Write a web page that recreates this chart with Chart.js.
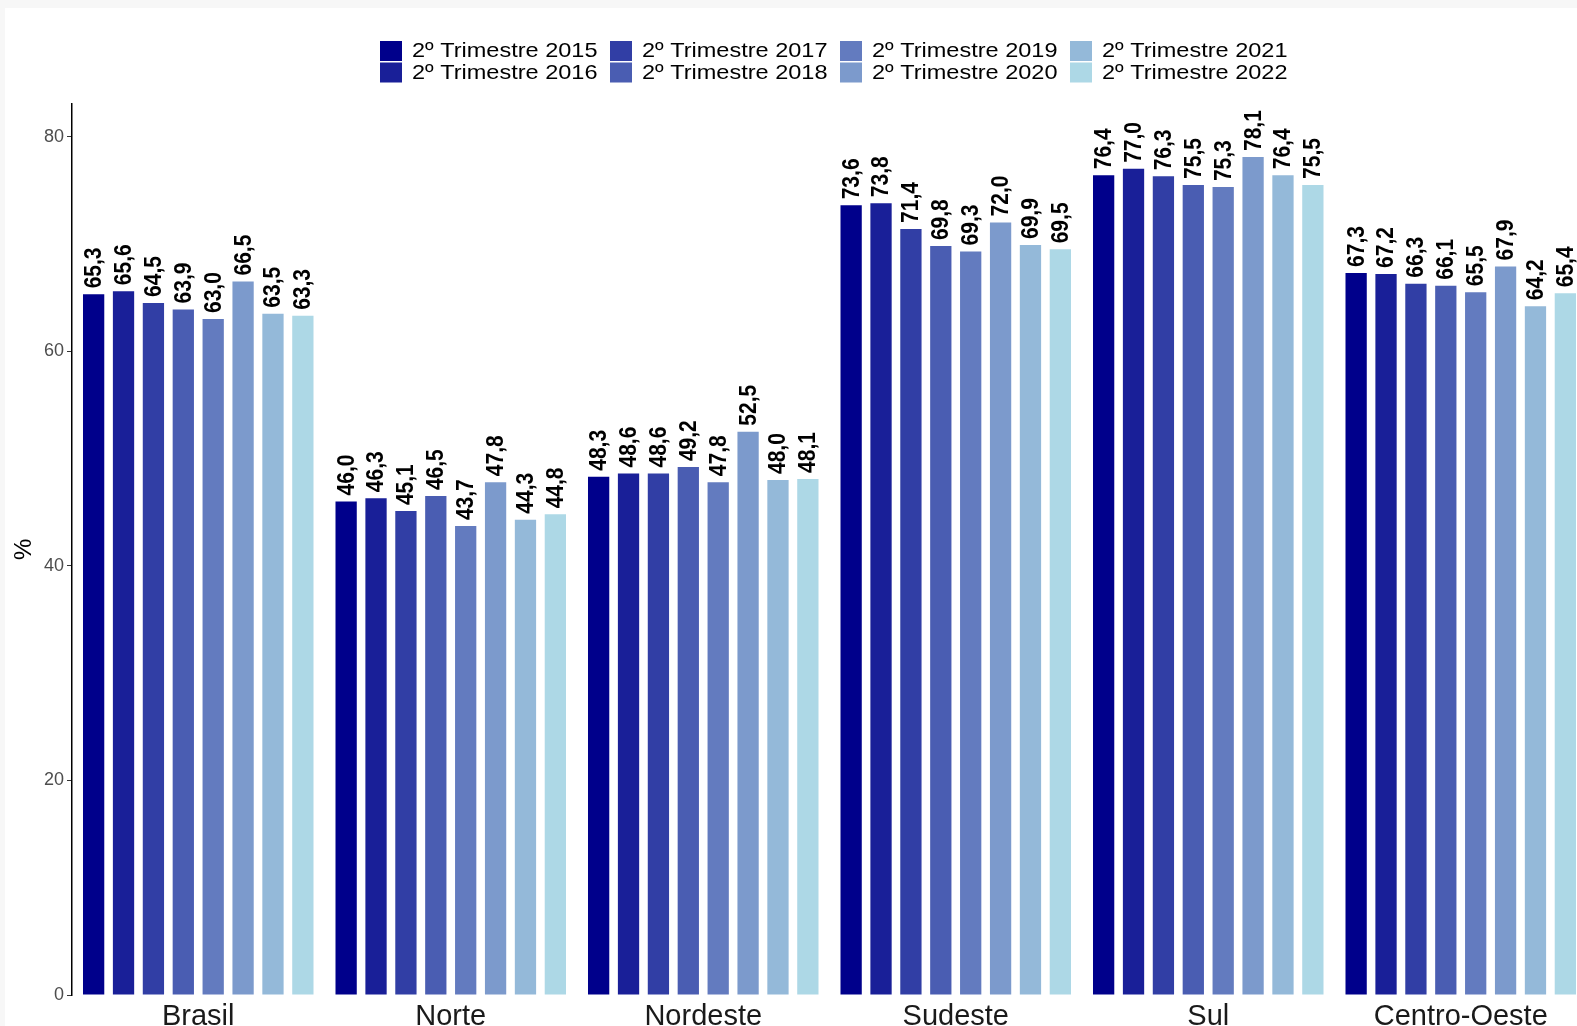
<!DOCTYPE html>
<html>
<head>
<meta charset="utf-8">
<script src="https://cdn.jsdelivr.net/npm/chart.js@4/dist/chart.umd.min.js"></script>
<style>
  html, body { margin: 0; padding: 0; background: #f7f7f7; overflow: hidden; }
  #wrap { position: absolute; left: 5px; top: 8px; width: 1582px; height: 1030px; background: #fff; }
</style>
</head>
<body>
<div id="wrap"><canvas id="barChart"></canvas></div>
<script>
const regions = ["Brasil", "Norte", "Nordeste", "Sudeste", "Sul", "Centro-Oeste"];
const quarters = ["2º Trimestre 2015", "2º Trimestre 2016", "2º Trimestre 2017", "2º Trimestre 2018",
  "2º Trimestre 2019", "2º Trimestre 2020", "2º Trimestre 2021", "2º Trimestre 2022"];
const colors = ["#00008B", "#191F98", "#313EA5", "#4A5DB2", "#637BBF", "#7C9ACC", "#94B9D9", "#ADD8E6"];

// one array per quarter, values by region
const q2015 = [65.3, 46.0, 48.3, 73.6, 76.4, 67.3];
const q2016 = [65.6, 46.3, 48.6, 73.8, 77.0, 67.2];
const q2017 = [64.5, 45.1, 48.6, 71.4, 76.3, 66.3];
const q2018 = [63.9, 46.5, 49.2, 69.8, 75.5, 66.1];
const q2019 = [63.0, 43.7, 47.8, 69.3, 75.3, 65.5];
const q2020 = [66.5, 47.8, 52.5, 72.0, 78.1, 67.9];
const q2021 = [63.5, 44.3, 48.0, 69.9, 76.4, 64.2];
const q2022 = [63.3, 44.8, 48.1, 69.5, 75.5, 65.4];
const series = [q2015, q2016, q2017, q2018, q2019, q2020, q2021, q2022];

const yTicks = [0, 20, 40, 60, 80];

const font = "'Liberation Sans', Arial, sans-serif";

// value labels, rotated, above each bar (glyphs a bit wide like the original)
const barLabels = {
  id: "barLabels",
  afterDatasetsDraw(chart) {
    const ctx = chart.ctx;
    ctx.save();
    ctx.font = "bold 21px " + font;
    ctx.fillStyle = "#000";
    ctx.textAlign = "left";
    ctx.textBaseline = "middle";
    chart.data.datasets.forEach((ds, i) => {
      const meta = chart.getDatasetMeta(i);
      meta.data.forEach((bar, j) => {
        ctx.save();
        ctx.translate(bar.x + 1, bar.y - 6);
        ctx.rotate(-Math.PI / 2);
        ctx.scale(1, 1.11);
        ctx.fillText(ds.data[j].toFixed(1).replace(".", ","), 0, 0);
        ctx.restore();
      });
    });
    ctx.restore();
  }
};

// legend in 2 rows, filled column by column
const gridLegend = {
  id: "gridLegend",
  afterDraw(chart) {
    const ctx = chart.ctx;
    ctx.save();
    ctx.font = "21px " + font;
    ctx.textBaseline = "middle";
    ctx.textAlign = "left";
    chart.data.datasets.forEach((ds, i) => {
      const col = Math.floor(i / 2), row = i % 2;
      const x = 375 + col * 230;
      const y = 33 + row * 21.5;
      ctx.fillStyle = ds.backgroundColor;
      ctx.fillRect(x, y, 22, 20);
      ctx.fillStyle = "#000";
      ctx.save();
      ctx.translate(x + 32, y + 10.5);
      ctx.scale(1.12, 1);
      ctx.fillText(ds.label, 0, 0);
      ctx.restore();
    });
    ctx.restore();
  }
};

new Chart(document.getElementById("barChart"), {
  type: "bar",
  data: {
    labels: regions,
    datasets: series.map((vals, i) => ({
      label: quarters[i],
      data: vals,
      backgroundColor: colors[i],
      categoryPercentage: 0.947,
      barPercentage: 0.712,
    })),
  },
  options: {
    responsive: true,
    maintainAspectRatio: false,
    animation: false,
    layout: { padding: { top: 95.6, left: 0, right: 0, bottom: 0 } },
    plugins: {
      legend: { display: false },
      tooltip: { enabled: false },
    },
    scales: {
      x: {
        offset: true,
        grid: { display: false, drawTicks: false },
        border: { display: false },
        ticks: {
          color: "#1a1a1a",
          padding: 6,
          maxRotation: 0,
          font: { family: font, size: 29, lineHeight: 1.1 },
        },
        afterFit(scale) { scale.height = 43; },
      },
      y: {
        min: 0,
        max: 83.08,
        afterBuildTicks(scale) { scale.ticks = yTicks.map(v => ({ value: v })); },
        grid: { drawOnChartArea: false, drawTicks: true, tickLength: 5, color: "#333" },
        border: { display: true, color: "#000", width: 1.5 },
        ticks: {
          color: "#4d4d4d",
          padding: 3,
          font: { family: font, size: 18 },
        },
        title: {
          display: true,
          text: "%",
          color: "#000",
          padding: { top: 5, bottom: 0 },
          font: { family: font, size: 24 },
        },
        afterFit(scale) { scale.width = 67; },
      },
    },
  },
  plugins: [barLabels, gridLegend],
});
</script>
</body>
</html>
